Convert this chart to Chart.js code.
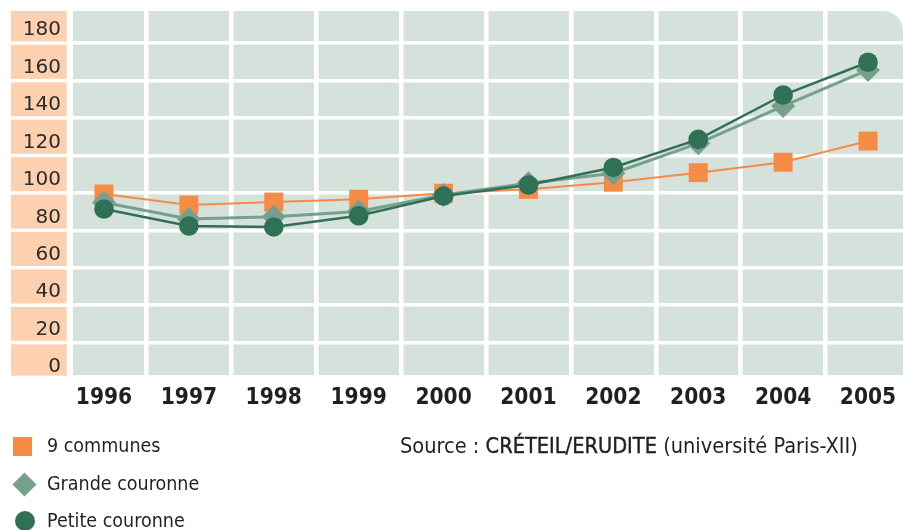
<!DOCTYPE html>
<html>
<head>
<meta charset="utf-8">
<script src="https://cdn.jsdelivr.net/npm/chart.js@4.4.0/dist/chart.umd.min.js"></script>
<style>
  html, body { margin: 0; padding: 0; background: #fff; overflow: hidden; }
  #wrap { position: relative; width: 903px; height: 530px; }
  #chart { position: absolute; left: 0; top: 0; }
  .txt { font-family: "Liberation Sans Narrow", "DejaVu Sans Condensed", "Arial Narrow", sans-serif; color: #231f20; }
  .row { position: absolute; left: 0; height: 30px; line-height: 30px; padding-left: 47px; white-space: nowrap; font-size: 19.5px; }
  .mark { position: absolute; }
  #source { position: absolute; left: 400px; top: 431px; line-height: 30px; white-space: nowrap; font-size: 21.6px; }
  #source b { font-weight: normal; -webkit-text-stroke: 0.4px #231f20; }
</style>
</head>
<body>
<div id="wrap">
  <canvas id="chart" width="903" height="530"></canvas>
  <div id="legend"></div>
  <div id="source" class="txt">Source : <b>CRÉTEIL/ERUDITE</b> (université Paris-XII)</div>
</div>
<script>
// indices, base ~100 en 2000
const years = [1996, 1997, 1998, 1999, 2000, 2001, 2002, 2003, 2004, 2005];
const communes9 = [99.4, 93.5, 95.1, 96.6, 99.8, 101.9, 105.7, 110.8, 116.4, 127.7];
const grandeCouronne = [94.9, 86.0, 87.3, 90.0, 98.9, 105.1, 110.5, 126.5, 146.4, 165.7];
const petiteCouronne = [91.4, 82.3, 81.8, 87.8, 98.3, 104.2, 113.6, 128.6, 152.3, 169.8];
const yTicks = [0, 20, 40, 60, 80, 100, 120, 140, 160, 180];

const seriesNames = ['9 communes', 'Grande couronne', 'Petite couronne'];
const seriesColors = ['#f68b45', '#76a08d', '#2f7056'];

const toPoints = vals => vals.map((v, i) => ({ x: years[i], y: v }));

// fond vert, colonne saumon et lignes blanches dans la colonne
const backdrop = {
  id: 'backdrop',
  beforeDraw(chart) {
    const { ctx, chartArea, scales } = chart;
    const bottom = chartArea.bottom - 5;
    ctx.save();
    ctx.fillStyle = '#d5e2dc';
    ctx.beginPath();
    ctx.roundRect(chartArea.left, chartArea.top, chartArea.right - chartArea.left, bottom - chartArea.top, [0, 20, 0, 0]);
    ctx.fill();
    ctx.fillStyle = '#fdd0b0';
    ctx.fillRect(11, chartArea.top, 55.7, bottom - chartArea.top + 0.7);
    ctx.fillStyle = '#fff';
    scales.y.ticks.forEach(t => {
      const py = scales.y.getPixelForValue(t.value);
      ctx.fillRect(11, py - 1.75, 62, 3.5);
    });
    ctx.restore();
  }
};

const ctx = document.getElementById('chart').getContext('2d');
const chart = new Chart(ctx, {
  type: 'line',
  data: {
    datasets: [
      {
        label: seriesNames[0],
        data: toPoints(communes9),
        borderColor: seriesColors[0],
        backgroundColor: seriesColors[0],
        borderWidth: 2,
        pointStyle: 'rect',
        pointRadius: 13.4,
        pointBorderWidth: 0,
        order: 3
      },
      {
        label: seriesNames[1],
        data: toPoints(grandeCouronne),
        borderColor: seriesColors[1],
        backgroundColor: seriesColors[1],
        borderWidth: 3,
        pointStyle: 'rectRot',
        pointRadius: 12,
        pointBorderWidth: 0,
        order: 2
      },
      {
        label: seriesNames[2],
        data: toPoints(petiteCouronne),
        borderColor: seriesColors[2],
        backgroundColor: seriesColors[2],
        borderWidth: 2.5,
        pointStyle: 'circle',
        pointRadius: 9.8,
        pointBorderWidth: 0,
        order: 1
      }
    ]
  },
  options: {
    responsive: false,
    animation: false,
    layout: { autoPadding: false, padding: { top: 11, left: 0, right: 0, bottom: 0 } },
    plugins: {
      legend: { display: false },
      tooltip: { enabled: false }
    },
    scales: {
      x: {
        type: 'linear',
        min: 1995.635,
        max: 2005.412,
        afterBuildTicks: s => { s.ticks = years.map(v => ({ value: v })); },
        afterFit: s => { s.height = 150; s.paddingLeft = 0; s.paddingRight = 0; },
        border: { display: false },
        grid: { offset: true, color: '#fff', lineWidth: 4.5, drawTicks: false },
        ticks: {
          autoSkip: false,
          maxRotation: 0,
          padding: 5,
          color: '#231f20',
          font: { family: '"Liberation Sans Narrow", "DejaVu Sans Condensed", "Arial Narrow", sans-serif', size: 22.5, weight: 'bold' },
          callback: v => String(v)
        }
      },
      y: {
        min: 0,
        max: 197.2,
        afterBuildTicks: s => { s.ticks = yTicks.map(v => ({ value: v })); },
        afterFit: s => { s.width = 73; s.paddingTop = 0; s.paddingBottom = 0; },
        border: { display: false },
        grid: { color: '#fff', lineWidth: 3.5, drawTicks: false },
        ticks: {
          autoSkip: false,
          padding: 12,
          labelOffset: -13,
          color: '#2b2b2b',
          font: { family: '"DejaVu Sans", sans-serif', size: 20 },
          callback: v => String(v)
        }
      }
    }
  },
  plugins: [backdrop]
});

// légende en bas à gauche
const legendShapes = [
  'width:19px;height:19px;left:13px;top:5.5px;',
  'width:17px;height:17px;left:15.5px;top:6.5px;transform:rotate(45deg);',
  'width:20px;height:20px;left:15px;top:5px;border-radius:50%;'
];
const legendCenters = [446, 484, 521];
const legend = document.getElementById('legend');
seriesNames.forEach((name, i) => {
  const row = document.createElement('div');
  row.className = 'row txt';
  row.style.top = (legendCenters[i] - 15) + 'px';
  row.innerHTML = '<span class="mark" style="' + legendShapes[i] + 'background:' + seriesColors[i] + '"></span>' + name;
  legend.appendChild(row);
});
</script>
</body>
</html>
